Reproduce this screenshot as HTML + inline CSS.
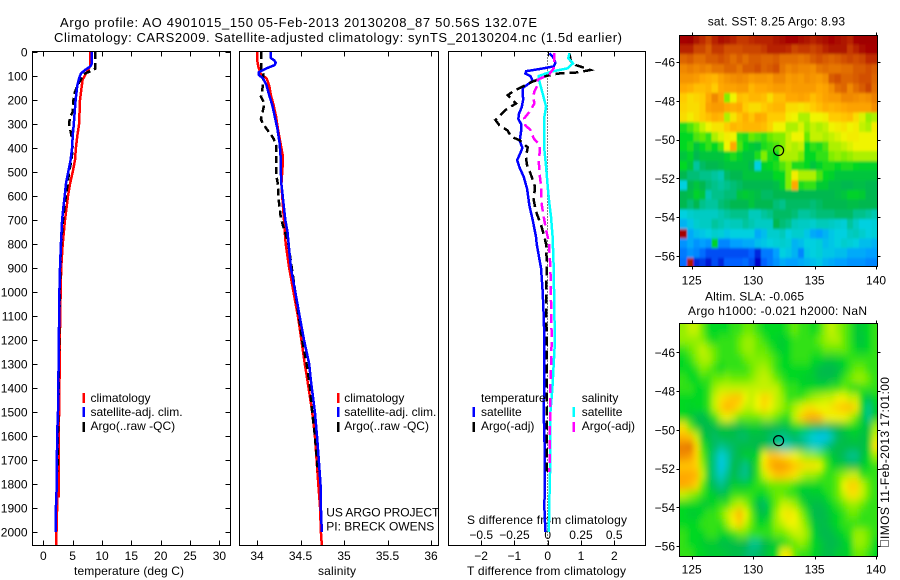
<!DOCTYPE html>
<html lang="en">
<head>
<meta charset="utf-8">
<title>Argo profile chart</title>
<style>
html,body{margin:0;padding:0;background:#fff;}
svg{display:block;}
text{font-family:"Liberation Sans",sans-serif;font-size:12px;fill:#000;}
text.big{font-size:13px;}
</style>
</head>
<body>
<svg id="chart" xmlns="http://www.w3.org/2000/svg" width="900" height="580" viewBox="0 0 900 580">
  <defs>
    <filter id="sstSoft" filterUnits="userSpaceOnUse" x="640" y="0" width="260" height="300">
      <feGaussianBlur stdDeviation="0.9 1.4"/>
    </filter>
    <filter id="slaSoft" filterUnits="userSpaceOnUse" x="640" y="290" width="260" height="290">
      <feGaussianBlur stdDeviation="2.6 4.2"/>
    </filter>
    <clipPath id="sstClip"><rect x="680" y="36" width="197" height="230"/></clipPath>
    <clipPath id="slaClip"><rect x="680" y="324" width="197" height="232"/></clipPath>
  </defs>
  <text class="big" x="60" y="27" textLength="477">Argo profile: AO 4901015_150 05-Feb-2013 20130208_87 50.56S 132.07E</text>
  <text class="big" x="54" y="42" textLength="568">Climatology: CARS2009. Satellite-adjusted climatology: synTS_20130204.nc (1.5d earlier)</text>

  <text x="74" y="575" textLength="110">temperature (deg C)</text>
  <text x="318" y="575" textLength="38">salinity</text>
  <text x="467" y="575" textLength="159">T difference from climatology</text>
  <text x="467" y="524" textLength="160">S difference from climatology</text>

  <text x="326.3" y="516.7" textLength="113">US ARGO PROJECT</text>
  <text x="326.3" y="530.7" textLength="108">PI: BRECK OWENS</text>

  <text x="707.7" y="25.7" textLength="137.3">sat. SST: 8.25 Argo: 8.93</text>
  <text x="705" y="300.7" textLength="99">Altim. SLA: -0.065</text>
  <text x="688" y="315" textLength="179">Argo h1000: -0.021 h2000: NaN</text>
  <text transform="translate(889,539) rotate(-90)" x="0" y="0" textLength="162">IMOS 11-Feb-2013 17:01:00</text>
  <rect x="880.5" y="540.5" width="8" height="6" fill="none" stroke="#000" stroke-width="1" stroke-dasharray="1 1"/>
</svg>
<script>
// ---------- temperature panel data (pressure in dbar, temperature in deg C)
const tempClimP = [0,60,115,200,300,350,400,450,500,550,600,650,700,800,900,1000,1100,1200,1300,1400,1500,1600,1790,1790,1850,1850,1900,2000,2054];
const tempClim  = [7.95,7.95,6.7,6.25,6.1,5.8,5.55,5.4,5.0,4.55,4.2,3.95,3.7,3.3,3.05,2.95,2.9,2.8,2.8,2.75,2.7,2.6,2.6,2.65,2.65,2.35,2.35,2.25,2.2];
const tempSatP  = [0,50,60,75,90,110,140,200,300,350,400,450,500,550,600,650,700,800,900,1000,1100,1200,1300,1400,1500,1600,1800,1900,2000];
const tempSat   = [8.25,8.25,8,7.1,6.4,6.1,5.8,5.5,5.2,5,4.9,4.65,4.25,3.85,3.65,3.4,3.2,3,2.85,2.75,2.7,2.65,2.6,2.55,2.5,2.35,2.3,2.15,2.1];
const tempArgoP = [0,70,80,90,110,140,180,250,270,300,350,400,450,500,550,600,650,700,800,900,1000,1100,1200,1300,1400,1500,1750];
const tempArgo  = [8.8,8.8,8,7.1,6.5,5.8,5.2,5,4.55,4.4,4.8,5,4.8,4.4,4.15,3.85,3.6,3.35,3.05,2.9,2.8,2.75,2.7,2.65,2.6,2.55,2.4];

// ---------- salinity panel data
const salClimP = [0,30,60,90,110,140,180,220,270,320,380,430,470,550,600,650,700,750,800,900,1000,1100,1200,1300,1370,1500,1600,1700,1800,1900,2000,2054];
const salClim  = [34,34,34.015,34.04,34.11,34.14,34.16,34.19,34.22,34.24,34.27,34.295,34.295,34.28,34.29,34.3,34.31,34.32,34.33,34.37,34.42,34.47,34.51,34.55,34.58,34.635,34.665,34.685,34.705,34.725,34.735,34.745];
const salSatP  = [0,25,35,45,55,65,75,85,95,110,140,180,220,270,320,380,430,470,550,600,650,700,750,900,1000,1100,1200,1300,1370,1500,1600,1700,1800,1900,2000];
const salSat   = [34.16,34.16,34.2,34.215,34.2,34.13,34.07,34.02,34.02,34.07,34.11,34.14,34.175,34.205,34.235,34.26,34.27,34.27,34.28,34.295,34.31,34.325,34.35,34.39,34.44,34.49,34.54,34.6,34.62,34.665,34.69,34.71,34.73,34.735,34.745];
const salArgoP = [0,40,75,90,130,160,185,215,240,280,300,330,360,390,450,510,550,620,680,720,760,800,900,1000,1100,1200,1300,1400,1500,1600,1700,1750];
const salArgo  = [34.05,34.05,34.05,34.07,34.07,34.06,34.045,34.085,34.07,34.045,34.07,34.13,34.19,34.22,34.22,34.22,34.24,34.25,34.27,34.295,34.33,34.36,34.4,34.44,34.48,34.52,34.57,34.61,34.635,34.665,34.69,34.7];

// ---------- difference panel data
const dTSatP  = [5,25,45,60,70,80,90,100,120,135,150,200,230,260,280,300,330,370,400,430,450,480,520,570,640,700,770,800,900,1000,1100,1200,1370,1500,1700,1900,2000];
const dTSat   = [0.05,0.18,0.23,0.18,-0.2,-0.65,-0.67,-0.52,-0.45,-0.6,-0.75,-0.74,-0.78,-0.87,-0.88,-0.8,-0.8,-0.84,-0.76,-0.85,-0.92,-0.85,-0.72,-0.62,-0.55,-0.45,-0.35,-0.33,-0.2,-0.15,-0.12,-0.1,-0.1,-0.12,-0.08,-0.1,-0.07];
const dTArgoP = [5,40,55,65,75,85,90,100,110,125,140,165,180,214,240,283,305,328,353,367,397,436,467,505,561,617,665,720,770,800,900,1000,1200,1400,1750];
const dTArgo  = [0.65,0.7,0.85,1.08,1.28,0.9,0.3,-0.05,-0.2,-0.48,-0.7,-1.05,-1.2,-0.95,-1.25,-1.57,-1.45,-1.2,-1.1,-0.85,-0.6,-0.65,-0.63,-0.52,-0.38,-0.42,-0.35,-0.2,-0.1,-0.05,-0.02,-0.05,-0.03,-0.03,-0.02];
const dSSatP  = [5,26,47,68,82,100,124,172,228,270,339,408,478,561,630,686,770,900,1100,1200,1300,1400,1500,1700,1800,2000];
const dSSat   = [0.163,0.155,0.19,0.15,0.025,-0.068,-0.062,-0.038,-0.012,-0.025,-0.025,-0.025,-0.012,0,0.012,0.025,0.037,0.045,0.05,0.055,0.045,0.035,0.02,0.02,0.015,0.008];
const dSArgoP = [5,30,68,93,116,137,165,186,214,244,276,304,325,360,387,408,450,505,561,617,665,742,770,800,900,1200,1400,1750];
const dSArgo  = [0.05,0.05,0.045,0.012,-0.075,-0.075,-0.1,-0.11,-0.1,-0.13,-0.175,-0.17,-0.13,-0.105,-0.06,-0.058,-0.068,-0.062,-0.05,-0.05,-0.037,-0.012,0,0.01,0.02,0.03,0.02,0.0125];

// ---------- tick labels
const depthTicks = [0,100,200,300,400,500,600,700,800,900,1000,1100,1200,1300,1400,1500,1600,1700,1800,1900,2000];
const tempTicks  = [0,5,10,15,20,25,30];
const salTicks   = [34,34.5,35,35.5,36];
const dTTicks    = [-2,-1,0,1,2];
const dSTicks    = [-0.5,-0.25,0,0.25,0.5];
const lonTicks   = [125,130,135,140];
const latTicks   = [-46,-48,-50,-52,-54,-56];

// ---------- argo float position
const floatLon = 132.07;
const floatLat = -50.56;

// ---------- SST map (deg C, 0.5 degree cells, north to south)
const sstGrid = [
[11.4,11.5,11.2,10.9,10.7,11,11.3,11.2,11,10.8,10.8,10.9,11,11,11,11.2,11.3,11.4,11.4,11.3,11.2,11,11.2,11.3,11.4,11.3,11.2,11,11.4,11.5,11.5,11.5],
[11,11,10.7,10.7,10.5,10.8,10.8,10.6,10.6,10.6,10.7,10.7,10.7,10.8,11,11,11,10.9,10.7,10.8,10.8,10.7,10.8,11,11.2,11.2,11.2,10.8,11,11.3,11.4,11.4],
[10.4,10.5,10.3,10.3,10.5,10.5,10.6,10.5,10.3,10.5,10.3,10.5,10.5,10.4,10.4,10.5,10.3,10.3,10.3,10.2,10.3,10.5,10.6,10.5,10.4,10.5,10.6,10.7,10.6,10.7,10.9,10.9],
[10,10.1,10,10.1,10,10.2,10.2,10.4,10.4,10.2,10.5,10.5,10.6,10.4,10.5,10.6,10.2,10,10.1,10,10,9.9,10.2,10.3,10.2,10.2,10.3,10.3,10.5,10.5,10.6,10.5],
[9.8,9.8,9.7,9.5,9.4,9.3,9.6,9.8,9.9,10,9.9,9.7,9.8,9.8,9.7,10,10,9.7,9.8,9.7,9.9,9.8,9.7,9.9,10.5,10.6,10.4,10.4,10.5,10.6,10.6,10.4],
[9.5,9.4,9.2,9.2,9.3,9,9.5,9.6,9.6,9.7,9.7,9.3,9.5,9.5,9.6,9.7,9.7,9.6,9.7,9.7,9.7,9.7,9.5,9.6,9.9,10.3,10.4,10,10.3,10.5,10.7,10.3],
[9,8.8,8.9,9,9.5,10,9.6,8,8.5,9.2,9.1,9.3,9.3,9.2,8.8,9.2,9.2,9.5,9.5,9.6,9.5,9.2,9.4,9.6,9.7,9.7,10,10,9.9,9.8,9.9,10.1],
[8.9,8.8,8.8,9,9.6,9.7,9.7,9.5,9.4,9.5,9,8.8,8.8,9,9.2,9.3,9.3,8.8,8.8,8.7,8.8,9,9.2,9.4,9.3,9.4,9.5,9.6,9.6,9.6,9.6,9.9],
[8.8,8.6,8.8,9,9.2,9.4,9.3,8.2,8.7,9.1,9.4,9.1,9.5,9.4,9,9,9,8.6,8.5,8.2,8.2,8.5,8.5,8.6,9,9,9.1,9.2,8.8,8.4,8.1,8.2],
[7.6,7.8,8,8.3,8.5,8.7,8.7,9,9.3,9.2,9.3,9.3,9.3,9.2,8.9,8.5,8.5,8.2,8.2,8.4,8.1,8.3,8.2,8.3,8.5,8.6,8.7,8.5,8.6,8.3,8.2,8.6],
[7.5,7.5,7.8,7.9,7.7,8.2,8.4,8.6,8.5,7.7,7.6,7.9,7.8,7.7,7.9,8,8,8.3,8.5,8.5,7.9,8.3,8.3,8.2,8.3,8.4,8.5,8.6,8.6,8.5,8.5,8.5],
[7.5,7.6,7.2,7.5,7.7,7.5,7.8,8.5,9.5,7.8,7.5,7.3,7.2,7.6,7.7,7.8,8,8.3,8.2,8.3,7.5,7.7,7.6,7.8,8.2,8.2,8.3,8.4,8.5,8.5,8.5,8.5],
[7.2,7.4,7,7.2,7.2,7.2,7.2,7.4,7.6,7.4,7.2,7.2,7.6,8,7.6,7.5,8.2,8.2,8.2,8,7.5,7.5,7.7,7.7,8,8.1,8,8.1,8.2,8.2,8.2,8.2],
[7.5,7.2,6.6,6.9,7,7,7.1,7.2,7.2,7.2,7.2,7,6,7.4,7.5,7.6,7.8,8,7.6,7.6,7.5,7.2,7.4,7.6,7.6,7.5,7.6,7.6,7.5,7.4,7.4,7.4],
[7,6.8,6.8,6.7,6.7,6.6,6.5,6.9,7,7,7.2,7.2,7.2,7.2,7.2,7.5,7.5,8,8.6,8.2,8.2,8.2,7.8,7.5,7.4,7.2,7.2,7.2,7.2,7.2,7.2,7.2],
[6,7,7.2,7,6.8,6.7,6.6,6.7,6.8,6.9,7,7,7,7,7,7.1,7.4,8,9.5,7.6,7.7,7.7,7.3,7.3,7.1,7.1,7,7,7.1,7.1,7,7],
[7,7.1,7.4,7.2,6.5,6.7,6.7,6.8,6.8,7.2,7.3,7.2,7.1,6.9,6.9,7,7,7,7,7,7,7,7,7,7,7.1,7.2,7.4,7.4,7.3,7,7],
[7,6.8,7,6.7,6.6,6.6,6.8,6.9,7,7,7,7.2,7,7,7,6.8,6.7,6.9,6.9,6.9,6.9,6.8,6.9,7,7,7,7,7.1,7.1,7,7,7],
[6,6.2,6.3,6.3,6.3,6.3,6.5,6.6,6.7,6.7,6.7,6.4,6.4,6.6,6.7,6.9,6.9,6.9,6.8,6.6,6.6,6.7,6.8,6.8,6.8,6.9,6.9,6.9,6.7,6.7,6.6,6.5],
[5.7,5.9,6.2,6.3,6.3,6.6,6.5,6.3,6.4,6.4,6.6,6.5,6.3,6.3,6.3,7,6.8,6.7,6.4,6.3,6.3,6.2,6.4,6.4,6.3,6.2,6.1,6.6,6.3,6,6,6.1],
[11.4,5.6,5.8,5.9,6,6.2,6.1,5.9,6,6,6,6,5.6,5.8,6.2,6.2,6.4,6,6.2,6.2,5.9,5.6,5.5,5.7,5.9,6,6,6.3,6.4,6.2,6,6.1],
[5.4,5.6,5.4,5.5,5.4,7.4,5.3,5.3,5.5,5.5,5.6,5.6,5.8,5.9,6,6.1,6.2,6.1,5.7,5.8,6,6,6.1,5.8,5.9,6,6.2,6.1,6,5.8,5.8,5.7],
[5.2,5.4,5.3,5.1,4.9,4.9,4.9,4.9,4.9,4.9,4.9,5,4.7,5.2,5.2,5.5,6,5.9,5.7,5.3,5.9,6,6.1,5.9,5.9,5.8,5.8,5.6,5.6,5.6,5.5,5.5],
[5.1,11.2,4.7,4.8,4.6,4.9,4.7,5,5,5,5.1,4.9,4.5,5,5.2,5.4,5.6,5.5,5.5,5.6,5.7,5.8,5.9,5.7,5.6,5.5,5.5,5.4,5.4,5.4,5.3,5.3]
];

// ---------- SLA map (metres, 0.5 degree cells, north to south)
const slaGrid = [
[0.02,0.03,0.03,0.01,-0.01,-0.01,-0.01,-0.01,0,0,0.01,0.01,0,-0.01,-0.01,-0.01,-0.01,0,0.01,0,0,-0.01,0,0.02,0.03,0.02,0.01,0,-0.02,-0.02,-0.01,0],
[0.02,0.02,0.02,0.015,0,-0.01,0,0,0,0.01,0.02,0.02,0.01,0,-0.01,-0.015,-0.02,-0.01,0,0,0,0,0.01,0.02,0.025,0.025,0.01,0,-0.02,-0.025,-0.01,0],
[0,0.01,0.02,0.03,0.02,0.01,0,0,0,0.01,0.02,0.02,0.01,0.01,0,-0.01,-0.02,-0.01,0,0,0,0,0,0.01,0.01,0.01,0.01,0,-0.01,-0.02,-0.01,0],
[-0.01,0,0.015,0.025,0.025,0.01,0,0,0,0,0.01,0.015,0.015,0.015,0.01,0,-0.01,-0.01,0,0,0,-0.01,-0.01,-0.02,-0.02,-0.015,-0.01,0,0,0,0,0],
[-0.01,-0.01,0,0.015,0.01,0,-0.01,0,0,0,0,0.01,0.02,0.025,0.015,0,-0.01,-0.01,-0.01,-0.01,-0.01,-0.02,-0.03,-0.035,-0.035,-0.03,-0.015,0,0.01,0.01,0,0],
[0,-0.01,-0.01,0,0,0.01,0.01,0.015,0.01,0.01,0.01,0.015,0.025,0.03,0.025,0.01,0,-0.01,-0.01,-0.015,-0.02,-0.02,-0.03,-0.03,-0.03,-0.02,0,0.01,0.02,0.02,0.01,0],
[0,0,-0.01,-0.01,0,0.02,0.03,0.03,0.03,0.03,0.03,0.03,0.03,0.03,0.03,0.03,0.01,0,0,-0.01,-0.01,-0.01,-0.01,-0.01,0,0,0.01,0,-0.01,0,0,0],
[-0.01,-0.01,-0.01,-0.01,0,0.03,0.05,0.06,0.07,0.07,0.04,0.03,0.04,0.06,0.05,0.03,0.02,0,0,0,0.01,0.02,0.025,0.03,0.03,0.04,0.04,0.03,0.03,-0.01,-0.03,-0.01],
[-0.01,-0.015,-0.01,-0.01,0,0.03,0.06,0.08,0.07,0.05,0.03,0.03,0.04,0.055,0.04,0.03,0.02,0.01,0.025,0.035,0.05,0.05,0.04,0.04,0.05,0.06,0.07,0.07,0.05,-0.01,-0.05,-0.02],
[-0.01,-0.02,-0.03,-0.035,-0.02,0,0.03,0.04,0.03,0.01,0.01,0.01,0.01,0.02,0.02,0.01,0,0,0.03,0.06,0.08,0.09,0.08,0.05,0.04,0.04,0.04,0.03,0.01,-0.02,-0.05,-0.02],
[0.05,0.01,-0.02,-0.03,-0.035,-0.03,-0.025,-0.025,-0.03,-0.03,-0.025,-0.02,-0.02,-0.03,-0.03,-0.03,-0.03,-0.025,-0.01,-0.01,-0.02,-0.03,-0.035,-0.04,-0.035,-0.03,-0.02,-0.01,-0.01,-0.02,-0.03,0.02],
[0.08,0.07,0.03,-0.02,-0.03,-0.04,-0.03,-0.03,-0.03,-0.04,-0.04,-0.03,-0.03,-0.03,-0.04,-0.045,-0.05,-0.045,-0.04,-0.05,-0.06,-0.08,-0.09,-0.09,-0.06,-0.04,-0.03,-0.025,-0.02,-0.03,-0.02,0.03],
[0.12,0.13,0.06,0,-0.02,-0.04,-0.05,-0.045,-0.04,-0.03,-0.03,-0.03,-0.035,-0.03,-0.045,-0.05,-0.065,-0.06,-0.05,-0.045,-0.055,-0.065,-0.065,-0.05,-0.04,-0.03,-0.03,-0.03,-0.03,-0.03,-0.02,0.05],
[0.11,0.1,0.06,0.01,-0.02,-0.05,-0.08,-0.06,-0.04,-0.03,-0.02,-0.02,-0.01,0.04,0.07,0.07,0.06,0.05,0.04,0.03,0.02,0.02,0.01,0,-0.02,-0.03,-0.04,-0.05,-0.05,-0.03,-0.01,0.02],
[0.07,0.07,0.06,0.02,-0.02,-0.05,-0.09,-0.06,-0.03,-0.04,-0.05,-0.03,0,0.05,0.08,0.1,0.1,0.09,0.07,0.06,0.05,0.05,0.04,0.01,-0.01,-0.02,-0.02,-0.03,-0.03,-0.02,-0.01,0],
[0.09,0.09,0.08,0.03,-0.02,-0.05,-0.07,-0.05,-0.03,-0.045,-0.05,-0.03,0,0.03,0.05,0.07,0.07,0.06,0.05,0.03,0.02,0.02,0.01,0,0,0.01,0.02,0.03,0.03,0,0,0],
[0.09,0.08,0.06,0.01,-0.02,-0.04,-0.05,-0.04,-0.02,-0.02,-0.02,-0.01,0,0,0.01,0.01,0.01,0.01,0,-0.01,-0.01,-0.01,-0.01,0,0,0.01,0.04,0.06,0.06,0.03,0.01,0],
[0.03,0.02,0.01,0,-0.01,-0.02,-0.03,-0.02,0,0,0,0,-0.01,-0.01,0,0.01,0.01,0,0,-0.02,-0.025,-0.02,-0.02,-0.01,0,0.01,0.03,0.05,0.05,0.03,0.01,0],
[-0.01,-0.01,-0.01,-0.02,-0.02,-0.01,0,0,0.02,0.03,0.02,0,-0.03,-0.04,-0.01,0.01,0.03,0.03,0.02,0,-0.02,-0.03,-0.03,-0.025,-0.01,0,0.01,0.02,0.02,0.01,0,0],
[-0.01,-0.02,-0.02,-0.01,0,0,0.01,0.03,0.05,0.08,0.04,0.01,-0.02,-0.03,-0.01,0.02,0.04,0.05,0.04,0.02,0,-0.03,-0.035,-0.03,-0.02,-0.01,0,0.01,0.01,0,0,0],
[-0.01,-0.01,-0.01,0,0,0,0,0.02,0.04,0.06,0.03,0.01,-0.01,-0.01,0,0.02,0.03,0.04,0.04,0.03,0.01,-0.02,-0.03,-0.03,-0.02,-0.01,0,0,0,0,0,0],
[0,-0.01,-0.01,-0.01,0,0,-0.01,-0.01,0,0.01,0.01,0,0,0,0,0.01,0.01,0.02,0.03,0.03,0.02,-0.01,-0.03,-0.035,-0.03,-0.02,-0.01,0,0.02,0.02,0.01,0],
[0,-0.01,-0.01,-0.02,-0.02,-0.02,-0.03,-0.03,-0.03,-0.03,-0.035,-0.05,-0.05,-0.035,-0.025,-0.02,-0.01,0,0.01,0.02,0.01,-0.01,-0.02,-0.03,-0.035,-0.03,-0.02,-0.01,0.02,0.02,0.01,-0.01],
[0,0,-0.01,-0.01,-0.02,-0.02,-0.02,-0.025,-0.03,-0.03,-0.04,-0.045,-0.04,-0.03,-0.02,-0.01,0.04,0.05,0.01,0,0,-0.01,-0.02,-0.03,-0.03,-0.02,-0.02,-0.01,0.01,0.01,0,-0.01]
];

// ---------- axis functions
const pY = p => 52 + p * 0.24;
const tempX = v => 43.3 + v * 5.87;
const salX = v => 257 + (v - 34) * 87;
const dTX = v => 547.7 + v * 33.3;
const dSX = v => 547.7 + v * 133;
const lonX = lon => 691.7 + (lon - 125) * 12.29;
const sstLatY = lat => 62 + (-46 - lat) * 19.4;
const slaLatY = lat => 352.3 + (-46 - lat) * 19.37;

const NS = 'http://www.w3.org/2000/svg';
const svg = document.getElementById('chart');
function mk(tag, attrs, parent) {
  const e = document.createElementNS(NS, tag);
  for (const k in attrs) e.setAttribute(k, attrs[k]);
  (parent || svg).appendChild(e);
  return e;
}
const fmt = v => String(v).replace('-', '\u2212');

function lineSeries(name, xf, ps, vs, color, dash) {
  const pts = ps.map((p, i) => xf(vs[i]).toFixed(1) + ',' + pY(p).toFixed(1)).join(' ');
  const attrs = {points: pts, fill: 'none', stroke: color, 'stroke-width': 2.5, 'shape-rendering': 'crispEdges'};
  if (dash) attrs['stroke-dasharray'] = dash;
  const el = mk('polyline', attrs);
  
  
}
function axisLine(name, x1, y1, x2, y2) {
  const el = mk('line', {x1, y1, x2, y2, stroke: '#000', 'stroke-width': 1, 'shape-rendering': 'crispEdges'});
  
  
}
function label(name, x, y, str, anchor) {
  const el = mk('text', {x, y, 'text-anchor': anchor || 'middle'});
  el.textContent = str;
  
  
}
function frame(name, x, y, w, h) {
  const el = mk('rect', {x, y, width: w, height: h, fill: 'none', stroke: '#000', 'stroke-width': 1, 'shape-rendering': 'crispEdges'});
  
  
}
function legendBar(name, x, y, color) {
  const el = mk('rect', {x, y, width: 2.5, height: 10, fill: color});
  
  
}

// ---------- panel frames and ticks
const panelTop = 51.5, panelBottom = 545.5;
frame('temperature-panel-frame', 32.5, panelTop, 198, panelBottom - panelTop);
frame('salinity-panel-frame', 239.5, panelTop, 199, panelBottom - panelTop);
frame('difference-panel-frame', 448.5, panelTop, 197, panelBottom - panelTop);

depthTicks.forEach(d => {
  const y = Math.round(pY(d)) + 0.5;
  axisLine('depth-tick-left', 32.5, y, 37.5, y);
  axisLine('depth-tick-right', 225.5, y, 230.5, y);
  label('depth-tick-label', 27.5, pY(d) + 4.5, String(d), 'end');
});
tempTicks.forEach(v => {
  const x = Math.round(tempX(v)) + 0.5;
  axisLine('temperature-tick-top', x, panelTop, x, panelTop + 5);
  axisLine('temperature-tick-bottom', x, panelBottom - 5, x, panelBottom);
  label('temperature-tick-label', tempX(v), 560, fmt(v));
});
salTicks.forEach(v => {
  const x = Math.round(salX(v)) + 0.5;
  axisLine('salinity-tick-top', x, panelTop, x, panelTop + 5);
  axisLine('salinity-tick-bottom', x, panelBottom - 5, x, panelBottom);
  label('salinity-tick-label', salX(v), 560, fmt(v));
});
dTTicks.forEach(v => {
  const x = Math.round(dTX(v)) + 0.5;
  axisLine('t-difference-tick-top', x, panelTop, x, panelTop + 5);
  axisLine('t-difference-tick-bottom', x, panelBottom - 5, x, panelBottom);
  label('t-difference-tick-label', dTX(v), 560, fmt(v));
});
dSTicks.forEach(v => {
  label('s-difference-tick-label', dSX(v), 539, fmt(v));
});

// ---------- zero reference
const zeroLine = mk('line', {x1: dTX(0), y1: panelTop, x2: dTX(0), y2: panelBottom, stroke: '#000', 'stroke-width': 1, 'stroke-dasharray': '1 2', 'shape-rendering': 'crispEdges'});



// ---------- profile series
lineSeries('temperature-climatology-line', tempX, tempClimP, tempClim, '#ff0000');
lineSeries('temperature-argo-line', tempX, tempArgoP, tempArgo, '#000000', '7 4');
lineSeries('temperature-satellite-line', tempX, tempSatP, tempSat, '#0000ff');

lineSeries('salinity-climatology-line', salX, salClimP, salClim, '#ff0000');
lineSeries('salinity-argo-line', salX, salArgoP, salArgo, '#000000', '7 4');
lineSeries('salinity-satellite-line', salX, salSatP, salSat, '#0000ff');

lineSeries('t-difference-satellite-line', dTX, dTSatP, dTSat, '#0000ff');
lineSeries('t-difference-argo-line', dTX, dTArgoP, dTArgo, '#000000', '9 5');
lineSeries('s-difference-satellite-line', dSX, dSSatP, dSSat, '#00ffff');
lineSeries('s-difference-argo-line', dSX, dSArgoP, dSArgo, '#ff00ff', '9 5');

// ---------- legends
legendBar('legend-temperature-climatology-swatch', 82.5, 393, '#ff0000');
label('legend-temperature-climatology', 90.5, 402, 'climatology', 'start');
legendBar('legend-temperature-satellite-swatch', 82.5, 407, '#0000ff');
label('legend-temperature-satellite', 90.5, 416, 'satellite-adj. clim.', 'start');
legendBar('legend-temperature-argo-swatch', 82.5, 422, '#000000');
label('legend-temperature-argo', 90.5, 430, 'Argo(..raw -QC)', 'start');

legendBar('legend-salinity-climatology-swatch', 337, 393, '#ff0000');
label('legend-salinity-climatology', 344.3, 402, 'climatology', 'start');
legendBar('legend-salinity-satellite-swatch', 337, 407, '#0000ff');
label('legend-salinity-satellite', 344.3, 416, 'satellite-adj. clim.', 'start');
legendBar('legend-salinity-argo-swatch', 337, 422, '#000000');
label('legend-salinity-argo', 344.3, 430, 'Argo(..raw -QC)', 'start');

label('legend-t-heading', 481, 402, 'temperature', 'start');
legendBar('legend-t-satellite-swatch', 472.5, 407, '#0000ff');
label('legend-t-satellite', 481, 416, 'satellite', 'start');
legendBar('legend-t-argo-swatch', 472.5, 422, '#000000');
label('legend-t-argo', 481, 430, 'Argo(-adj)', 'start');

label('legend-s-heading', 581.7, 402, 'salinity', 'start');
legendBar('legend-s-satellite-swatch', 572.5, 407, '#00ffff');
label('legend-s-satellite', 581.7, 416, 'satellite', 'start');
legendBar('legend-s-argo-swatch', 572.5, 422, '#ff00ff');
label('legend-s-argo', 581.7, 430, 'Argo(-adj)', 'start');

// ---------- colour scale for maps
const ramp = ['#0000c8','#0060ff','#00a0ff','#00d0e0','#00c8b0','#00b850','#00d820','#80ee00','#f0f400','#ffcc00','#ffa800','#f08800','#d85c00','#b82000','#a00000'];
function rampColor(t) {
  const f = Math.max(0, Math.min(1, t)) * (ramp.length - 1);
  const i = Math.min(ramp.length - 2, Math.floor(f));
  const a = ramp[i], b = ramp[i + 1], u = f - i;
  const c = [1, 3, 5].map(s => {
    const p = parseInt(a.substr(s, 2), 16), q = parseInt(b.substr(s, 2), 16);
    return Math.round(p + (q - p) * u);
  });
  return 'rgb(' + c.join(',') + ')';
}
const cellLon0 = 124.13, cellLat0 = -44.6, cellStep = 0.5;
const edgeBleed = 16;

function drawMap(prefix, grid, latY, vmin, vmax, clipId, filterId) {
  const clipGroup = mk('g', {'clip-path': 'url(#' + clipId + ')'});
  
  
  const softGroup = mk('g', {filter: 'url(#' + filterId + ')'}, clipGroup);
  
  
  grid.forEach((row, j) => {
    row.forEach((v, i) => {
      let x0 = lonX(cellLon0 + i * cellStep), x1 = lonX(cellLon0 + (i + 1) * cellStep);
      let y0 = latY(cellLat0 - j * cellStep), y1 = latY(cellLat0 - (j + 1) * cellStep);
      if (i === 0) x0 -= edgeBleed;
      if (i === row.length - 1) x1 += edgeBleed;
      if (j === 0) y0 -= edgeBleed;
      if (j === grid.length - 1) y1 += edgeBleed;
      const cell = mk('rect', {x: x0.toFixed(1), y: y0.toFixed(1), width: (x1 - x0 + 0.4).toFixed(1), height: (y1 - y0 + 0.4).toFixed(1), fill: rampColor((v - vmin) / (vmax - vmin)), 'shape-rendering': 'crispEdges'}, softGroup);
      
      
    });
  });
}
drawMap('sst-map', sstGrid, sstLatY, 4.5, 11.5, 'sstClip', 'sstSoft');
drawMap('sla-map', slaGrid, slaLatY, -0.16, 0.19, 'slaClip', 'slaSoft');

// ---------- map frames, ticks, markers
const mapLeft = 679.5, mapRight = 877.5;
const sstTop = 35.5, sstBottom = 266.5, slaTop = 323.5, slaBottom = 556.5;
frame('sst-map-frame', mapLeft, sstTop, mapRight - mapLeft, sstBottom - sstTop);
frame('sla-map-frame', mapLeft, slaTop, mapRight - mapLeft, slaBottom - slaTop);

lonTicks.forEach(v => {
  const x = Math.round(lonX(v)) + 0.5;
  axisLine('sst-lon-tick-top', x, sstTop - 3, x, sstTop);
  axisLine('sst-lon-tick-bottom', x, sstBottom, x, sstBottom + 3);
  label('sst-lon-tick-label', lonX(v), 284.5, String(v));
  axisLine('sla-lon-tick-top', x, slaTop - 3, x, slaTop);
  axisLine('sla-lon-tick-bottom', x, slaBottom, x, slaBottom + 3);
  label('sla-lon-tick-label', lonX(v), 573.5, String(v));
});
latTicks.forEach(v => {
  const y1 = Math.round(sstLatY(v)) + 0.5;
  axisLine('sst-lat-tick-left', mapLeft - 3, y1, mapLeft, y1);
  axisLine('sst-lat-tick-right', mapRight, y1, mapRight + 3, y1);
  label('sst-lat-tick-label', 675, sstLatY(v) + 4.5, fmt(v), 'end');
  const y2 = Math.round(slaLatY(v)) + 0.5;
  axisLine('sla-lat-tick-left', mapLeft - 3, y2, mapLeft, y2);
  axisLine('sla-lat-tick-right', mapRight, y2, mapRight + 3, y2);
  label('sla-lat-tick-label', 675, slaLatY(v) + 4.5, fmt(v), 'end');
});

const sstMarker = mk('circle', {cx: lonX(floatLon), cy: sstLatY(floatLat), r: 5, fill: 'none', stroke: '#000', 'stroke-width': 1.2});


const slaMarker = mk('circle', {cx: lonX(floatLon), cy: slaLatY(floatLat), r: 5, fill: 'none', stroke: '#000', 'stroke-width': 1.2});


</script>
</body>
</html>
